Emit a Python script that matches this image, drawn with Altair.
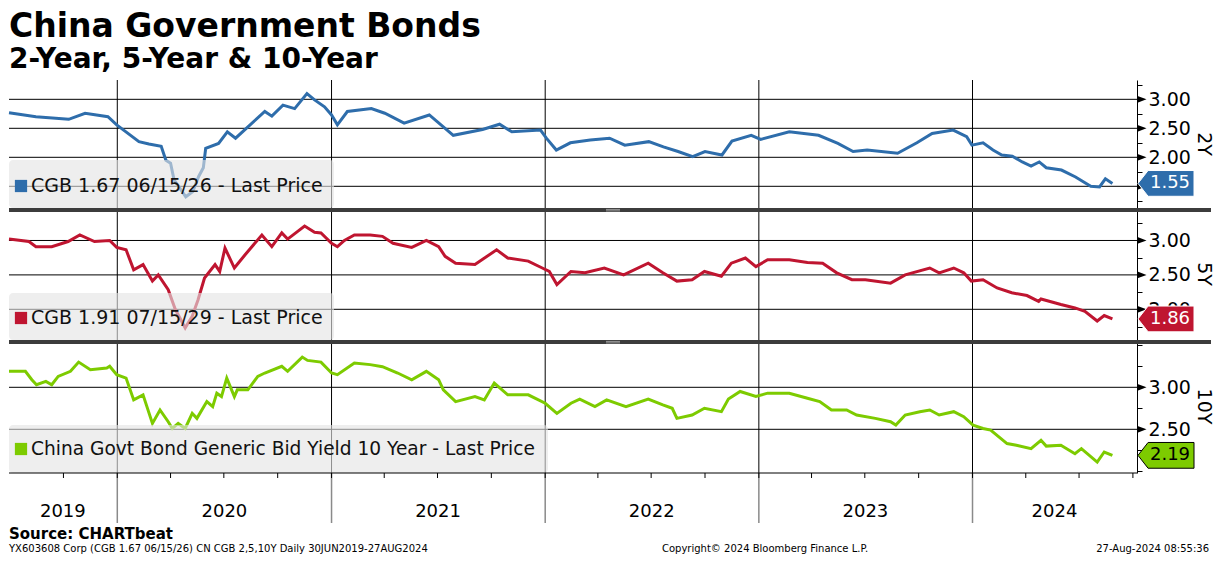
import altair as alt
import pandas as pd

F = "DejaVu Sans"
W = 1128

# ---------------- data ----------------
d2y = ["2019-06-30","2019-08-15","2019-10-10","2019-11-07","2019-12-16","2019-12-31","2020-02-07","2020-02-24","2020-03-16","2020-03-24","2020-04-01","2020-04-07","2020-04-27","2020-05-09","2020-05-19","2020-05-27","2020-05-31","2020-06-22","2020-07-07","2020-07-21","2020-09-09","2020-09-21","2020-10-10","2020-10-30","2020-11-20","2020-12-03","2020-12-20","2021-01-01","2021-01-11","2021-01-28","2021-03-10","2021-04-02","2021-05-05","2021-06-17","2021-07-28","2021-09-16","2021-10-15","2021-11-05","2021-12-24","2022-01-03","2022-01-20","2022-02-13","2022-03-19","2022-04-21","2022-05-17","2022-06-27","2022-07-22","2022-08-16","2022-09-10","2022-10-01","2022-10-30","2022-11-16","2022-12-19","2023-01-04","2023-02-22","2023-04-13","2023-05-16","2023-06-11","2023-07-05","2023-08-26","2023-09-28","2023-10-24","2023-11-29","2023-12-22","2023-12-31","2024-01-19","2024-02-05","2024-02-20","2024-03-09","2024-03-26","2024-04-10","2024-04-24","2024-05-06","2024-06-01","2024-06-25","2024-07-21","2024-08-05","2024-08-15","2024-08-27"]
v2y = [2.77,2.70,2.655,2.76,2.70,2.56,2.27,2.23,2.19,1.95,1.90,1.61,1.32,1.41,1.67,1.82,2.155,2.24,2.44,2.33,2.79,2.71,2.90,2.84,3.10,2.99,2.87,2.73,2.56,2.79,2.84,2.76,2.59,2.73,2.38,2.48,2.57,2.44,2.47,2.33,2.125,2.25,2.30,2.33,2.21,2.27,2.18,2.10,2.01,2.10,2.04,2.28,2.38,2.31,2.44,2.38,2.24,2.10,2.125,2.07,2.25,2.41,2.47,2.355,2.21,2.25,2.125,2.04,2.02,1.92,1.85,1.92,1.82,1.78,1.66,1.50,1.49,1.63,1.55]

d5y = ["2019-06-30","2019-08-03","2019-08-15","2019-09-11","2019-10-09","2019-10-29","2019-11-23","2019-12-19","2019-12-31","2020-01-16","2020-01-29","2020-02-14","2020-03-01","2020-03-11","2020-03-28","2020-04-09","2020-04-26","2020-05-08","2020-05-18","2020-05-29","2020-06-16","2020-06-24","2020-07-03","2020-07-19","2020-08-06","2020-09-04","2020-09-21","2020-10-08","2020-10-18","2020-11-16","2020-12-03","2020-12-14","2021-01-01","2021-01-11","2021-01-23","2021-02-09","2021-03-08","2021-03-29","2021-04-16","2021-05-18","2021-06-12","2021-07-03","2021-07-14","2021-08-01","2021-09-03","2021-10-10","2021-10-29","2021-12-03","2021-12-27","2022-01-08","2022-01-21","2022-02-14","2022-03-10","2022-04-12","2022-05-15","2022-06-26","2022-07-21","2022-08-14","2022-09-09","2022-09-30","2022-10-29","2022-11-15","2022-12-09","2022-12-27","2023-01-16","2023-02-22","2023-03-25","2023-04-20","2023-05-14","2023-06-09","2023-07-02","2023-08-14","2023-09-08","2023-10-20","2023-11-05","2023-11-30","2023-12-17","2023-12-30","2024-01-19","2024-02-12","2024-03-08","2024-04-03","2024-04-23","2024-04-27","2024-05-31","2024-06-24","2024-07-11","2024-08-01","2024-08-13","2024-08-27"]
v5y = [3.02,2.985,2.91,2.91,2.985,3.08,2.985,3.00,2.90,2.865,2.575,2.65,2.41,2.50,2.285,2.00,1.73,1.90,2.14,2.455,2.65,2.55,2.89,2.60,2.79,3.08,2.91,3.11,3.02,3.21,3.12,3.11,2.96,2.91,3.00,3.08,3.08,3.06,2.96,2.90,3.00,2.91,2.77,2.67,2.65,2.865,2.745,2.70,2.60,2.55,2.36,2.55,2.53,2.60,2.50,2.67,2.53,2.41,2.43,2.55,2.48,2.67,2.745,2.62,2.72,2.72,2.68,2.67,2.53,2.43,2.43,2.38,2.50,2.60,2.53,2.60,2.53,2.41,2.43,2.31,2.24,2.20,2.115,2.15,2.07,2.02,1.97,1.83,1.91,1.86]

d10y = ["2019-06-30","2019-07-28","2019-08-08","2019-08-16","2019-09-01","2019-09-11","2019-09-22","2019-10-13","2019-10-27","2019-11-16","2019-12-14","2019-12-19","2019-12-31",
        "2020-01-16","2020-01-29","2020-02-14","2020-03-01","2020-03-14","2020-03-28","2020-04-04","2020-04-14","2020-04-26","2020-05-08","2020-05-16","2020-06-02","2020-06-12","2020-06-19","2020-06-27","2020-07-06","2020-07-19","2020-07-24","2020-08-11","2020-08-28","2020-09-09","2020-10-08","2020-10-18","2020-11-12","2020-11-21","2020-12-14",
        "2021-01-01","2021-01-11","2021-02-09","2021-03-08","2021-03-29","2021-04-24","2021-05-18","2021-06-12","2021-07-03","2021-07-11","2021-08-01","2021-09-03","2021-09-19","2021-10-06","2021-10-29","2021-12-03",
        "2022-01-01","2022-01-21","2022-02-14","2022-03-01","2022-03-27","2022-04-16","2022-05-19","2022-06-26","2022-07-21","2022-08-06","2022-08-14","2022-09-09","2022-09-30","2022-10-29","2022-11-10","2022-11-30","2022-12-27",
        "2023-01-16","2023-02-22","2023-03-25","2023-04-15","2023-05-05","2023-05-31","2023-06-17","2023-07-19","2023-08-14","2023-08-23","2023-09-08","2023-10-03","2023-10-20","2023-11-05","2023-11-30","2023-12-17",
        "2024-01-02","2024-01-19","2024-02-01","2024-02-29","2024-03-16","2024-04-10","2024-04-27","2024-05-06","2024-05-31","2024-06-24","2024-07-05","2024-08-01","2024-08-13","2024-08-27"]
v10y = [3.19,3.19,3.09,3.03,3.07,3.03,3.13,3.19,3.30,3.21,3.23,3.25,3.15,
        3.11,2.85,2.91,2.57,2.73,2.59,2.51,2.57,2.51,2.69,2.63,2.83,2.77,2.93,2.89,3.11,2.89,2.97,2.97,3.13,3.17,3.25,3.19,3.36,3.32,3.30,
        3.17,3.15,3.29,3.27,3.245,3.17,3.09,3.19,3.09,2.97,2.83,2.89,2.85,3.05,2.91,2.91,
        2.81,2.69,2.81,2.86,2.77,2.85,2.77,2.86,2.79,2.75,2.63,2.67,2.75,2.71,2.86,2.95,2.89,
        2.93,2.93,2.87,2.83,2.73,2.73,2.67,2.63,2.59,2.55,2.67,2.71,2.73,2.67,2.71,2.65,
        2.55,2.51,2.49,2.33,2.31,2.27,2.37,2.30,2.31,2.21,2.27,2.11,2.23,2.19]

YEAR_STARTS = ["2020-01-01", "2021-01-01", "2022-01-01", "2023-01-01", "2024-01-01"]
YEAR_LABELS = ["2019", "2020", "2021", "2022", "2023", "2024"]
QUARTERS = ["2019-10-01", "2020-01-01", "2020-04-01", "2020-07-01", "2020-10-01",
            "2021-01-01", "2021-04-01", "2021-07-01", "2021-10-01",
            "2022-01-01", "2022-04-01", "2022-07-01", "2022-10-01",
            "2023-01-01", "2023-04-01", "2023-07-01", "2023-10-01",
            "2024-01-01", "2024-04-01", "2024-07-01", "2024-10-01"]
X_START, X_END = "2019-06-30", "2024-10-08"

LEGENDS = ["CGB 1.67 06/15/26 - Last Price",
           "CGB 1.91 07/15/29 - Last Price",
           "China Govt Bond Generic Bid Yield 10 Year - Last Price"]
TITLES = ["2Y", "5Y", "10Y"]
COLORS = ["#2e6dab", "#bf1530", "#7dcb00"]

# ---------------- helpers ----------------
def dt(s):
    t = pd.Timestamp(s)
    return alt.DateTime(year=t.year, month=t.month, date=t.day, utc=True)

XDOM = [dt(X_START), dt(X_END)]
TAG_PATH = "M-1,0L-0.64,-0.46L1,-0.46L1,0.46L-0.64,0.46Z"
ARROW_PATH = "M-1,-0.75L1,0L-1,0.75Z"
one = pd.DataFrame({"k": [0]})


def panel(dates, vals, color, dom, H, grid_vals, tick_vals, label_vals, ytitle,
          legend, legend_size, box_w, box_top, text_y, tag_text_color, tag_stroke, separator):
    xsc = alt.Scale(domain=XDOM)
    ysc = alt.Scale(domain=dom, nice=False, zero=False)
    df = pd.DataFrame({"date": dates, "value": vals})
    last_df = df.tail(1)

    labels_js = "[" + ",".join(str(v) for v in label_vals) + "]"
    axis = alt.Axis(
        orient="right", values=tick_vals, grid=False, ticks=True, tickSize=5,
        tickColor="black", tickWidth=1, domain=True, domainColor="black", domainWidth=1,
        labelExpr=f"indexof({labels_js}, datum.value) >= 0 ? format(datum.value, '.2f') : ''",
        labelFont=F, labelFontSize=19, labelColor="black", labelPadding=6,
        labelFlush=False, labelOverlap=False, title="")

    def Y(field):
        return alt.Y(field, scale=ysc, axis=axis)

    vgrid = alt.Chart(pd.DataFrame({"d": YEAR_STARTS})).mark_rule(
        color="black", strokeWidth=1).encode(x=alt.X("d:T", scale=xsc, axis=None))
    hgrid = alt.Chart(pd.DataFrame({"v": grid_vals})).mark_rule(
        color="black", strokeWidth=1).encode(y=Y("v:Q"))

    line = alt.Chart(df).mark_line(color=color, strokeWidth=3).encode(
        x=alt.X("date:T", scale=xsc, axis=None), y=Y("value:Q"))

    box = alt.Chart(one).mark_rect(color="#e3e3e3", opacity=0.62, cornerRadius=4).encode(
        x=alt.value(0), x2=alt.value(box_w), y=alt.value(box_top), y2=alt.value(H))

    leg_df = pd.DataFrame({"label": [legend]})
    swatch = alt.Chart(leg_df).mark_square(size=150, color=color, opacity=1).encode(
        x=alt.value(12), y=alt.value(text_y))
    ltext = alt.Chart(leg_df).mark_text(
        align="left", baseline="middle", font=F, fontSize=legend_size, color="#111111").encode(
        x=alt.value(22), y=alt.value(text_y), text="label:N")

    arrows = alt.Chart(pd.DataFrame({"v": grid_vals})).mark_point(
        shape=ARROW_PATH, size=81, filled=True, color="black", opacity=1).encode(
        x=alt.value(W + 5), y=Y("v:Q"))

    tag = alt.Chart(last_df).mark_point(
        shape=TAG_PATH, size=56 * 56, filled=True, fill=color, stroke=tag_stroke,
        strokeWidth=1, opacity=1).encode(
        x=alt.value(W + 29), y=Y("value:Q"))
    tagtext = alt.Chart(last_df).mark_text(
        font=F, fontSize=18, color=tag_text_color, align="center", baseline="middle").encode(
        x=alt.value(W + 33), y=Y("value:Q"),
        text=alt.Text("value:Q", format=".2f"))

    ttl_df = pd.DataFrame({"t": [ytitle]})
    ytext = alt.Chart(ttl_df).mark_text(
        font=F, fontSize=19, color="black", angle=90, align="center", baseline="middle").encode(
        x=alt.value(W + 67), y=alt.value(H / 2), text="t:N")

    layers = [vgrid, hgrid, line, box, swatch, ltext]
    if separator:
        sep = alt.Chart(one).mark_rect(color="#3c3c3c").encode(
            x=alt.value(0), x2=alt.value(1202), y=alt.value(0), y2=alt.value(4))
        grip1 = alt.Chart(one).mark_rule(color="#b0b0b0", strokeWidth=0.8).encode(
            x=alt.value(597), x2=alt.value(611), y=alt.value(1.4))
        grip2 = alt.Chart(one).mark_rule(color="#b0b0b0", strokeWidth=0.8).encode(
            x=alt.value(597), x2=alt.value(611), y=alt.value(2.9))
        layers += [sep, grip1, grip2]
    layers += [arrows, tag, tagtext, ytext]
    return alt.layer(*layers).properties(width=W, height=H)


p1 = panel(d2y, v2y, COLORS[0], [1.126, 3.333], 128,
           [3.0, 2.5, 2.0, 1.5], [3.25, 3.0, 2.75, 2.5, 2.25, 2.0, 1.75, 1.5, 1.25],
           [3.0, 2.5, 2.0], TITLES[0], LEGENDS[0], 19, 325, 80, 106,
           "white", "white", False)
p2 = panel(d5y, v5y, COLORS[1], [1.554, 3.472], 132,
           [3.0, 2.5, 2.0], [3.25, 3.0, 2.75, 2.5, 2.25, 2.0, 1.75],
           [3.0, 2.5, 2.0], TITLES[1], LEGENDS[1], 19, 325, 85, 110,
           "white", "white", True)
p3 = panel(d10y, v10y, COLORS[2], [1.98, 3.563], 133,
           [3.0, 2.5], [3.5, 3.25, 3.0, 2.75, 2.5, 2.25, 2.0],
           [3.0, 2.5], TITLES[2], LEGENDS[2], 18.6, 539, 85, 109,
           "black", "black", True)

# ---------------- x-axis strip ----------------
bounds = [pd.Timestamp(X_START)] + [pd.Timestamp(s) for s in YEAR_STARTS] + [pd.Timestamp(X_END)]
mids = [(bounds[i] + (bounds[i + 1] - bounds[i]) / 2).strftime("%Y-%m-%d") for i in range(len(bounds) - 1)]
lab_df = pd.DataFrame({"mid": mids, "label": YEAR_LABELS})
xsc = alt.Scale(domain=XDOM)

axis_line = alt.Chart(one).mark_rule(color="black", strokeWidth=1).encode(
    x=alt.value(0), x2=alt.value(W), y=alt.value(0))
year_lines = alt.Chart(pd.DataFrame({"d": YEAR_STARTS})).mark_rule(
    color="#8a8a8a", strokeWidth=1.5).encode(
    x=alt.X("d:T", scale=xsc, axis=None), y=alt.value(0), y2=alt.value(50))
q_ticks = alt.Chart(pd.DataFrame({"d": QUARTERS})).mark_rule(color="black", strokeWidth=1).encode(
    x=alt.X("d:T", scale=xsc, axis=None), y=alt.value(0), y2=alt.value(5))
year_text = alt.Chart(lab_df).mark_text(font=F, fontSize=18, color="black", baseline="middle").encode(
    x=alt.X("mid:T", scale=xsc, axis=None), y=alt.value(39), text="label:N")

foot_df = pd.DataFrame({
    "t": ["Source: CHARTbeat",
          "YX603608 Corp (CGB 1.67 06/15/26) CN CGB 2,5,10Y  Daily 30JUN2019-27AUG2024",
          "Copyright\u00a9 2024 Bloomberg Finance L.P.",
          "27-Aug-2024 08:55:36"]})
src = alt.Chart(foot_df.iloc[[0]]).mark_text(
    font=F, fontSize=15, fontWeight="bold", color="black", align="left", baseline="middle").encode(
    x=alt.value(0), y=alt.value(61), text="t:N")
f1 = alt.Chart(foot_df.iloc[[1]]).mark_text(
    font=F, fontSize=10, color="black", align="left", baseline="middle").encode(
    x=alt.value(0), y=alt.value(76), text="t:N")
f2 = alt.Chart(foot_df.iloc[[2]]).mark_text(
    font=F, fontSize=10, color="black", align="left", baseline="middle").encode(
    x=alt.value(653), y=alt.value(76), text="t:N")
f3 = alt.Chart(foot_df.iloc[[3]]).mark_text(
    font=F, fontSize=10, color="black", align="right", baseline="middle").encode(
    x=alt.value(1200), y=alt.value(76), text="t:N")

p4 = alt.layer(year_lines, axis_line, q_ticks, year_text, src, f1, f2, f3).properties(width=W, height=52)

chart = alt.vconcat(
    p1, p2, p3, p4, spacing=0, bounds="flush",
    title=alt.TitleParams(
        text="China Government Bonds", subtitle="2-Year, 5-Year & 10-Year",
        anchor="start", frame="group", font=F, fontSize=33, fontWeight="bold", color="black",
        subtitleFont=F, subtitleFontSize=28, subtitleFontWeight="bold", subtitleColor="black",
        subtitlePadding=2, offset=2)
).properties(padding={"left": -5, "top": 2, "right": 3, "bottom": 0}
).configure_view(stroke=None)

chart.save("out.html", embed_options={"renderer": "svg", "actions": False})
